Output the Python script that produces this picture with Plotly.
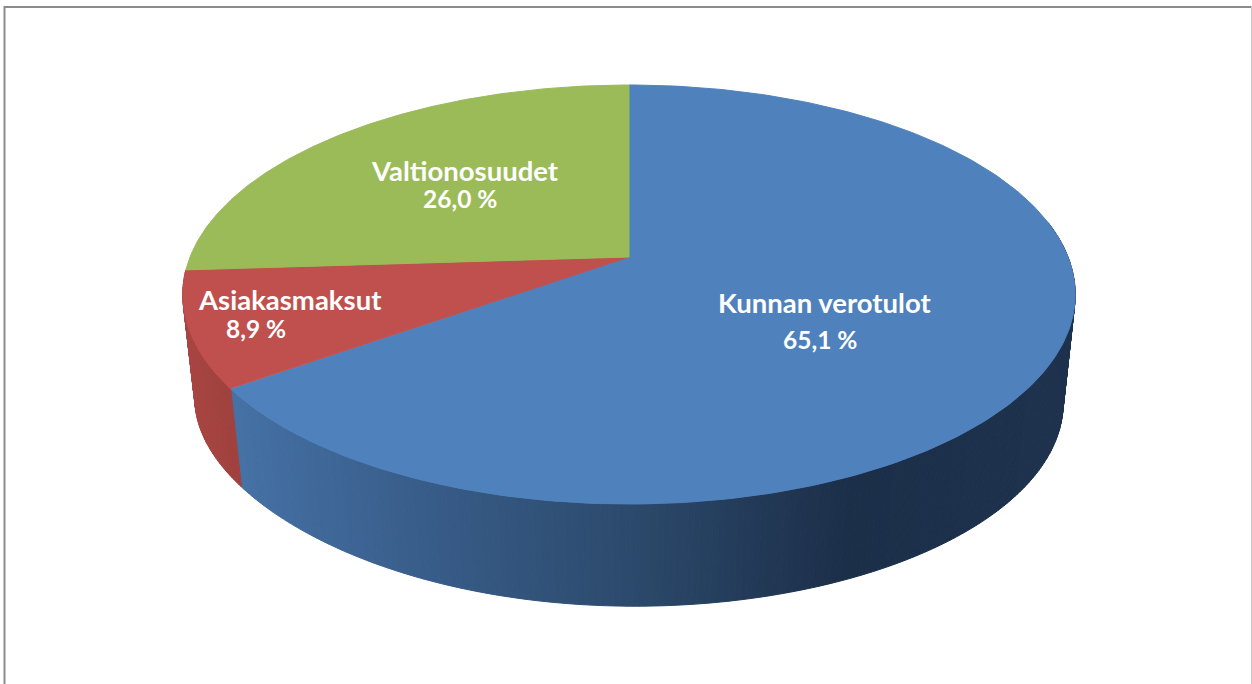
import numpy as np
import plotly.graph_objects as go

categories = ["Kunnan verotulot", "Asiakasmaksut", "Valtionosuudet"]
values = [65.1, 8.9, 26.0]
value_labels = ["65,1 %", "8,9 %", "26,0 %"]

W, H = 1252, 684
TOP = ["#4f81bd", "#c0504d", "#9bbb59"]
CX, CY = 629.0, 257.0
A, B, K = 439.0, 202.8, 0.179
SCALE, LOW_CY, TOP_CY, VSCALE = 0.973, 403.0, 294.5, 0.973


def top_pt(t):
    d = 1 + K * np.cos(t)
    return CX + A * np.sin(t) / d, CY - B * np.cos(t) / d


def low_pt(t):
    x, y = top_pt(t)
    lift = 8.0 * np.exp(-((np.degrees(t) - 235.0) / 35.0) ** 2)
    return CX + SCALE * (x - CX), LOW_CY + VSCALE * (y - TOP_CY) - lift


BLUE_STOPS = ([230, 420, 629, 800, 850, 1076],
              [(70, 114, 166), (56, 93, 138), (44, 74, 108), (31, 52, 80), (28, 47, 73), (30, 50, 78)])
RED_STOPS = ([180, 240], [(170, 70, 67), (158, 64, 61)])
GREEN_STOPS = ([180, 240], [(120, 145, 70), (120, 145, 70)])
SIDE = [BLUE_STOPS, RED_STOPS, GREEN_STOPS]


def side_colour(stops, x):
    xs, cs = stops
    return "rgb(%d,%d,%d)" % tuple(int(round(np.interp(x, xs, [c[i] for c in cs]))) for i in range(3))


fig = go.Figure()
edges = np.radians(np.concatenate([[0], np.cumsum(values)]) * 3.6)

# rim strips, front part only, drawn before the top faces
for i in range(2):
    t0, t1 = edges[i], edges[i + 1]
    t0 = max(t0, np.radians(80))
    t1 = min(t1, np.radians(285))
    n = max(6, int(np.degrees(t1 - t0) * 1.5))
    ts = np.linspace(t0, t1, n + 1)
    for a, b in zip(ts[:-1], ts[1:]):
        xa, ya = top_pt(a)
        xb, yb = top_pt(b)
        lxa, lya = low_pt(a)
        lxb, lyb = low_pt(b)
        col = side_colour(SIDE[i], (xa + xb + lxa + lxb) / 4)
        fig.add_trace(go.Scatter(
            x=[xa, xb, lxb, lxa, xa], y=[ya, yb, lyb, lya, ya],
            mode="lines", fill="toself", fillcolor=col,
            line=dict(color=col, width=1), hoverinfo="skip", showlegend=False))

# top faces
for i, name in enumerate(categories):
    ts = np.linspace(edges[i], edges[i + 1], 240)
    px, py = top_pt(ts)
    fig.add_trace(go.Scatter(
        x=np.concatenate([[CX], px, [CX]]), y=np.concatenate([[CY], py, [CY]]),
        mode="lines", fill="toself", fillcolor=TOP[i],
        line=dict(color=TOP[i], width=1), name=name, hoverinfo="name", showlegend=False))

LABEL_POS = [((824.5, 302), (820, 339)), ((290, 299), (256, 328)), ((465, 170), (460, 198))]
NAME_FONT = dict(family="Lato, Open Sans, sans-serif", size=27.5, color="white")
PCT_FONT = dict(family="Lato, Open Sans, sans-serif", size=24.5, color="white")
ann = []
for i, (p1, p2) in enumerate(LABEL_POS):
    ann.append(dict(x=p1[0], y=p1[1], text="<b>%s</b>" % categories[i], showarrow=False, font=NAME_FONT))
    ann.append(dict(x=p2[0], y=p2[1], text="<b>%s</b>" % value_labels[i], showarrow=False, font=PCT_FONT))

border = [
    dict(type="line", x0=4.5, x1=4.5, y0=6, y1=H, line=dict(color="#8c8c8c", width=2)),
    dict(type="line", x0=4, x1=W, y0=7, y1=7, line=dict(color="#8c8c8c", width=2)),
    dict(type="line", x0=1251.5, x1=1251.5, y0=6, y1=H, line=dict(color="#c8c8c8", width=1)),
]

fig.update_layout(
    width=W, height=H, margin=dict(l=0, r=0, t=0, b=0),
    paper_bgcolor="white", plot_bgcolor="white",
    xaxis=dict(range=[0, W], visible=False, fixedrange=True),
    yaxis=dict(range=[H, 0], visible=False, fixedrange=True),
    annotations=ann, shapes=border, showlegend=False,
)
fig.write_html("out.html", post_script="document.body.style.margin='0';", config={"displayModeBar": False})
